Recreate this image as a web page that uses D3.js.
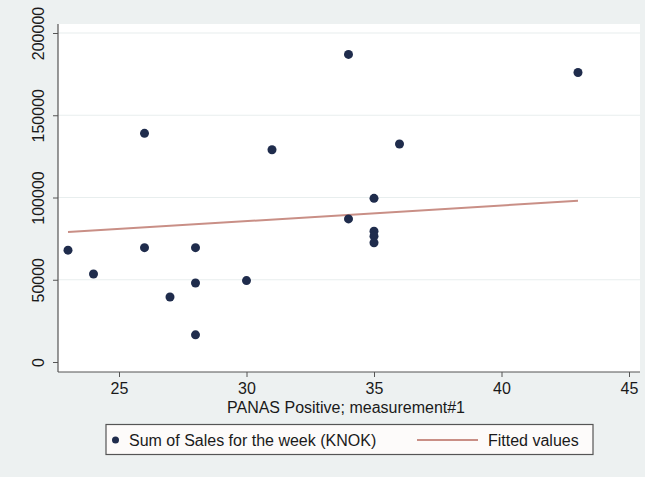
<!DOCTYPE html>
<html><head><meta charset="utf-8">
<script src="https://cdn.jsdelivr.net/npm/d3@7"></script>
<style>body{margin:0;background:#fff}svg{display:block}</style>
</head><body>
<script>
const panas = [23, 24, 26, 26, 27, 28, 28, 28, 30, 31, 34, 34, 35, 35, 35, 35, 36, 43];
const sales = [68000, 53500, 139000, 69500, 39500, 69500, 48000, 16500, 49500, 129000, 187000, 87000, 99500, 79500, 76500, 72500, 132500, 176000];
const fitX = [23, 43];
const fitY = [79000, 98000];
const xTicks = [25, 30, 35, 40, 45];
const yTicks = [0, 50000, 100000, 150000, 200000];
const xTitle = "PANAS Positive; measurement#1";
const legendLabels = ["Sum of Sales for the week (KNOK)", "Fitted values"];

const W = 645, H = 477;
const svg = d3.select("body").append("svg").attr("width", W).attr("height", H);
svg.append("rect").attr("width", W).attr("height", H).attr("fill", "#edf1f1");

const L = 58, R = 640, T = 24, B = 372;
svg.append("rect").attr("x", L).attr("y", T).attr("width", R - L).attr("height", B - T).attr("fill", "#fff");

const x = d3.scaleLinear().domain([25, 45]).range([119, 629]);
const y = d3.scaleLinear().domain([0, 200000]).range([362, 33]);

// grid
svg.append("g").selectAll("line").data(yTicks.slice(1)).join("line")
  .attr("x1", L).attr("x2", R).attr("y1", d => y(d)).attr("y2", d => y(d))
  .attr("stroke", "#e8eeee").attr("stroke-width", 1.2);

// axes
const font = "'Liberation Sans', Arial, sans-serif";
const txt = "#1a1a1a";
const xAxis = svg.append("g").attr("transform", `translate(0,${B})`)
  .call(d3.axisBottom(x).tickValues(xTicks).tickSize(5).tickPadding(6).tickFormat(d3.format("d")));
xAxis.select(".domain").remove();
xAxis.append("line").attr("x1", L).attr("x2", R).attr("stroke", "#555").attr("stroke-width", 1.2);
xAxis.selectAll(".tick line").attr("stroke", "#555");
xAxis.selectAll("text").attr("font-family", font).attr("font-size", 16).attr("fill", txt);

const yAxis = svg.append("g").attr("transform", `translate(${L},0)`)
  .call(d3.axisLeft(y).tickValues(yTicks).tickSize(5).tickPadding(4).tickFormat(d3.format("d")));
yAxis.select(".domain").remove();
yAxis.append("line").attr("y1", T).attr("y2", B).attr("stroke", "#555").attr("stroke-width", 1.2);
yAxis.selectAll(".tick line").attr("stroke", "#555");
yAxis.selectAll(".tick text")
  .attr("font-family", font).attr("font-size", 16).attr("fill", txt)
  .attr("text-anchor", "middle").attr("x", null)
  .attr("transform", "translate(-20,0) rotate(-90)").attr("dy", "0.35em");

// fitted line
const line = d3.line().x(d => x(d[0])).y(d => y(d[1]));
svg.append("path").datum(d3.zip(fitX, fitY)).attr("d", line)
  .attr("fill", "none").attr("stroke", "#c98f86").attr("stroke-width", 2);

// points
svg.append("g").selectAll("circle").data(d3.zip(panas, sales)).join("circle")
  .attr("cx", d => x(d[0])).attr("cy", d => y(d[1])).attr("r", 4.5)
  .attr("fill", "#1f2c4c");

// x title
svg.append("text").attr("x", 346).attr("y", 413).attr("text-anchor", "middle")
  .attr("font-family", font).attr("font-size", 16).attr("fill", txt).text(xTitle);

// legend
const lg = svg.append("g");
lg.append("rect").attr("x", 106).attr("y", 424.5).attr("width", 487).attr("height", 30)
  .attr("fill", "#fdfbfa").attr("stroke", "#555").attr("stroke-width", 1.2);
lg.append("circle").attr("cx", 115.5).attr("cy", 440).attr("r", 3.5).attr("fill", "#1f2c4c");
lg.append("text").attr("x", 129).attr("y", 445.5).attr("font-family", font).attr("font-size", 16)
  .attr("fill", txt).text(legendLabels[0]);
lg.append("line").attr("x1", 417).attr("x2", 478).attr("y1", 440).attr("y2", 440)
  .attr("stroke", "#c98f86").attr("stroke-width", 2);
lg.append("text").attr("x", 488).attr("y", 445.5).attr("font-family", font).attr("font-size", 16)
  .attr("fill", txt).text(legendLabels[1]);
</script>
</body></html>
